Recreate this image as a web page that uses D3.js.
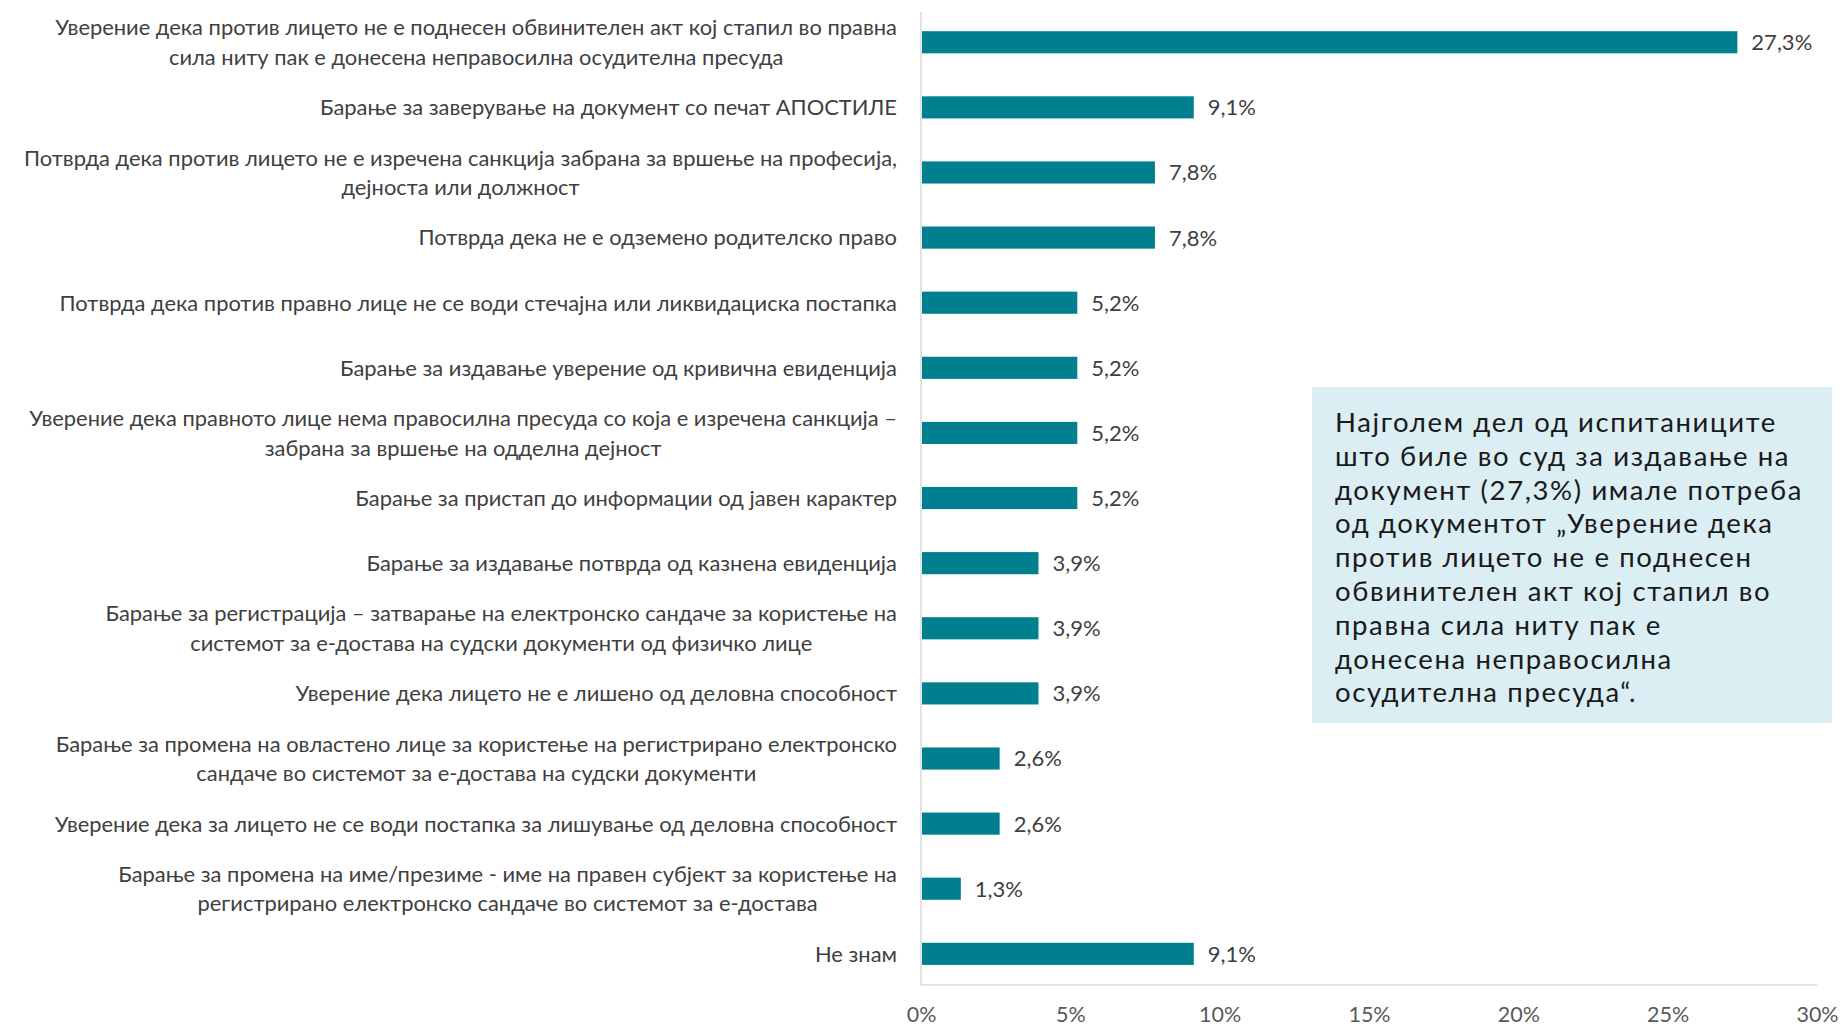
<!DOCTYPE html>
<html><head><meta charset="utf-8">
<script src="https://cdn.jsdelivr.net/npm/d3@7"></script>
<style>
html,body{margin:0;padding:0;background:#fff;}
svg{display:block;}
</style></head>
<body>
<svg id="chart" width="1844" height="1027"></svg>
<script>
const categories = [
  ["Уверение дека против лицето не е поднесен обвинителен акт кој стапил во правна", "сила ниту пак е донесена неправосилна осудителна пресуда"],
  ["Барање за заверување на документ со печат АПОСТИЛЕ"],
  ["Потврда дека против лицето не е изречена санкција забрана за вршење на професија,", "дејноста или должност"],
  ["Потврда дека не е одземено родителско право"],
  ["Потврда дека против правно лице не се води стечајна или ликвидациска постапка"],
  ["Барање за издавање уверение од кривична евиденција"],
  ["Уверение дека правното лице нема правосилна пресуда со која е изречена санкција –", "забрана за вршење на одделна дејност"],
  ["Барање за пристап до информации од јавен карактер"],
  ["Барање за издавање потврда од казнена евиденција"],
  ["Барање за регистрација – затварање на електронско сандаче за користење на", "системот за е-достава на судски документи од физичко лице"],
  ["Уверение дека лицето не е лишено од деловна способност"],
  ["Барање за промена на овластено лице за користење на регистрирано електронско", "сандаче во системот за е-достава на судски документи"],
  ["Уверение дека за лицето не се води постапка за лишување од деловна способност"],
  ["Барање за промена на име/презиме - име на правен субјект за користење на", "регистрирано електронско сандаче во системот за е-достава"],
  ["Не знам"]
];
const values = [27.3, 9.1, 7.8, 7.8, 5.2, 5.2, 5.2, 5.2, 3.9, 3.9, 3.9, 2.6, 2.6, 1.3, 9.1];
const valueLabels = ["27,3%","9,1%","7,8%","7,8%","5,2%","5,2%","5,2%","5,2%","3,9%","3,9%","3,9%","2,6%","2,6%","1,3%","9,1%"];
const tickValues = [0, 5, 10, 15, 20, 25, 30];
const tickLabels = ["0%","5%","10%","15%","20%","25%","30%"];
const noteLines = [
  "Најголем дел од испитаниците",
  "што биле во суд за издавање на",
  "документ (27,3%) имале потреба",
  "од документот „Уверение дека",
  "против лицето не е поднесен",
  "обвинителен акт кој стапил во",
  "правна сила ниту пак е",
  "донесена неправосилна",
  "осудителна пресуда“."
];

const svg = d3.select("#chart");
const labelFont = "Lato, 'Open Sans', sans-serif";
const x0 = 921, x1 = 1817, yTop = 12, yBot = 985;

const x = d3.scaleLinear().domain([0, 30]).range([x0, x1]);
const ids = categories.map((d, i) => i);
const y = d3.scaleBand().domain(ids).range([9.7, 986.4]).paddingInner(0.66).paddingOuter(0.33);

// axis lines
svg.append("line").attr("x1", x0).attr("x2", x0).attr("y1", yTop).attr("y2", yBot)
  .attr("stroke", "#d9d9d9").attr("stroke-width", 1.5);
svg.append("line").attr("x1", x0).attr("x2", x1).attr("y1", yBot).attr("y2", yBot)
  .attr("stroke", "#d9d9d9").attr("stroke-width", 1.5);

// x axis tick labels
const xAxis = d3.axisBottom(x).tickValues(tickValues).tickFormat((d, i) => tickLabels[i]).tickSize(0).tickPadding(0);
const gx = svg.append("g").attr("transform", `translate(0, ${yBot + 22})`).call(xAxis);
gx.select(".domain").remove();
gx.selectAll("text").attr("font-family", labelFont).attr("font-size", 21.5).attr("fill", "#595959");

// bars
svg.append("g").selectAll("rect").data(values).join("rect")
  .attr("x", x(0) + 1)
  .attr("y", (d, i) => y(i))
  .attr("width", d => x(d) - x(0))
  .attr("height", y.bandwidth())
  .attr("fill", "#00808f");

// value labels
svg.append("g").selectAll("text").data(values).join("text")
  .attr("x", d => x(d) + 15)
  .attr("y", (d, i) => y(i) + y.bandwidth() / 2)
  .attr("dy", "0.36em")
  .attr("font-family", labelFont).attr("font-size", 22).attr("fill", "#404040")
  .text((d, i) => valueLabels[i]);

// category labels (centered block, right edge at 897)
const labRight = 897, lineH = 29.4;
const lg = svg.append("g");
categories.forEach((lines, i) => {
  const cy = y(i) + y.bandwidth() / 2;
  const t = lg.append("text").attr("font-family", labelFont).attr("font-size", 21.9).attr("fill", "#404040")
    .attr("text-anchor", "middle");
  const spans = lines.map((ln, j) => t.append("tspan").text(ln)
    .attr("y", cy + (j - (lines.length - 1) / 2) * lineH).attr("dy", "0.36em"));
  const w = d3.max(spans, s => s.node().getComputedTextLength());
  spans.forEach(s => s.attr("x", labRight - w / 2));
});

// annotation box
svg.append("rect").attr("x", 1312).attr("y", 387).attr("width", 520).attr("height", 336)
  .attr("fill", "#daeef3");
const nt = svg.append("text").attr("font-family", "Lato, 'Open Sans', sans-serif")
  .attr("font-size", 27.5).attr("fill", "#1a1a1a");
const nspans = noteLines.map((ln, j) => nt.append("tspan").attr("x", 1335).attr("y", 432 + j * 33.8).text(ln));
const w3 = nspans[2].node().getComputedTextLength();
const ls = Math.max(0, (468 - w3) / noteLines[2].length);
nt.attr("letter-spacing", ls);
</script>
</body></html>
